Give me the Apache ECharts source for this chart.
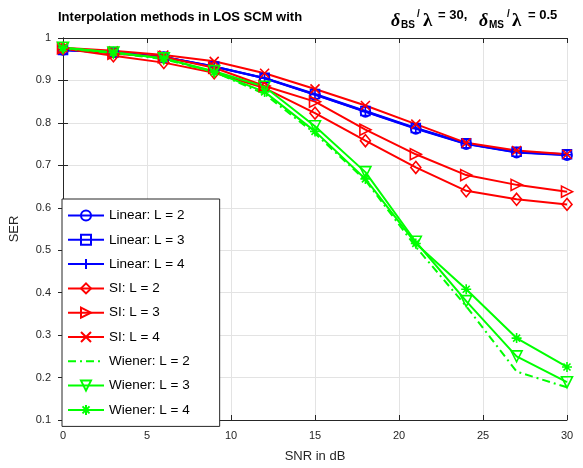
<!DOCTYPE html>
<html>
<head>
<meta charset="utf-8">
<script src="https://cdn.jsdelivr.net/npm/echarts@6/dist/echarts.min.js"></script>
<style>
html,body{margin:0;padding:0;background:#fff;}
#chart{width:583px;height:468px;}
</style>
</head>
<body>
<div id="chart"></div>
<script>
const snr = [0, 3, 6, 9, 12, 15, 18, 21, 24, 27, 30];
const linearL2 = [0.972, 0.966, 0.955, 0.932, 0.905, 0.866, 0.826, 0.786, 0.750, 0.730, 0.724];
const linearL3 = [0.972, 0.966, 0.955, 0.933, 0.906, 0.868, 0.828, 0.788, 0.752, 0.732, 0.726];
const linearL4 = [0.972, 0.966, 0.955, 0.933, 0.905, 0.867, 0.827, 0.787, 0.751, 0.731, 0.725];
const siL2 = [0.975, 0.958, 0.942, 0.918, 0.882, 0.823, 0.758, 0.695, 0.640, 0.620, 0.608];
const siL3 = [0.976, 0.963, 0.955, 0.930, 0.887, 0.850, 0.784, 0.726, 0.677, 0.654, 0.638];
const siL4 = [0.977, 0.970, 0.960, 0.945, 0.917, 0.880, 0.841, 0.797, 0.753, 0.735, 0.726];
const wienerL2 = [0.975, 0.965, 0.950, 0.920, 0.868, 0.775, 0.665, 0.508, 0.368, 0.214, 0.177];
const wienerL3 = [0.977, 0.966, 0.952, 0.922, 0.885, 0.792, 0.684, 0.520, 0.380, 0.250, 0.189];
const wienerL4 = [0.977, 0.966, 0.952, 0.920, 0.873, 0.780, 0.668, 0.516, 0.408, 0.293, 0.225];
const seriesNames = ['Linear: L = 2', 'Linear: L = 3', 'Linear: L = 4', 'SI: L = 2', 'SI: L = 3', 'SI: L = 4', 'Wiener: L = 2', 'Wiener: L = 3', 'Wiener: L = 4'];
const xTicks = [0, 5, 10, 15, 20, 25, 30];
const yTicks = [0.1, 0.2, 0.3, 0.4, 0.5, 0.6, 0.7, 0.8, 0.9, 1];

const BLUE = '#0000ff', RED = '#ff0000', GREEN = '#00ff00';
const AX = '#262626';
const PLUS = 'path://M5,0L5,10M0,5L10,5';
const CROSS = 'path://M0,0L10,10M10,0L0,10';
const STAR = 'path://M5,0L5,10M0,5L10,5M1.5,1.5L8.5,8.5M8.5,1.5L1.5,8.5';
const TRI_R = 'path://M0,0L10,5L0,10Z';
const TRI_D = 'path://M0,0L10,0L5,10Z';

const specs = [
  {vals: linearL2, color: BLUE, symbol: 'circle', size: 10},
  {vals: linearL3, color: BLUE, symbol: 'rect', size: 9},
  {vals: linearL4, color: BLUE, symbol: PLUS, size: 10},
  {vals: siL2, color: RED, symbol: 'diamond', size: [10, 12]},
  {vals: siL3, color: RED, symbol: TRI_R, size: 11},
  {vals: siL4, color: RED, symbol: CROSS, size: 9},
  {vals: wienerL2, color: GREEN, symbol: 'none', size: 0, dashed: true},
  {vals: wienerL3, color: GREEN, symbol: TRI_D, size: 11},
  {vals: wienerL4, color: GREEN, symbol: STAR, size: 10}
];

const series = specs.map((s, i) => {
  const hidden = s.symbol === 'none';
  return {
    type: 'line',
    name: seriesNames[i],
    data: snr.map((x, j) => [x, s.vals[j]]),
    symbol: hidden ? 'circle' : s.symbol,
    symbolSize: hidden ? 1 : s.size,
    showSymbol: !hidden,
    showAllSymbol: true,
    animation: false,
    lineStyle: {color: s.color, width: 2, type: s.dashed ? [8, 4, 2, 4] : 'solid'},
    itemStyle: hidden ? {color: 'none', borderColor: 'none', borderWidth: 0}
                      : {color: 'none', borderColor: s.color, borderWidth: 1.6},
    emphasis: {disabled: true}
  };
});

const chart = echarts.init(document.getElementById('chart'), null, {renderer: 'canvas'});
const fmt = v => String(Math.round(v * 10) / 10);
const axisCommon = {
  axisLine: {show: true, lineStyle: {color: AX, width: 1}},
  axisTick: {show: true, inside: true, length: 5, lineStyle: {color: AX}},
};
const sans = '"Liberation Sans", Arial, sans-serif';
const serif = '"Liberation Serif", "DejaVu Serif", serif';
function t(x, y, text, font) {
  return {type: 'text', x: x, y: y, silent: true,
    style: {text: text, font: font, fill: '#000', textVerticalAlign: 'middle'}};
}
chart.setOption({
  animation: false,
  backgroundColor: '#fff',
  grid: {left: 62, right: 16, top: 38, bottom: 41, containLabel: false},
  xAxis: [
    Object.assign({type: 'value', min: 0, max: 30, interval: 5, position: 'bottom',
      name: 'SNR in dB', nameLocation: 'middle', nameGap: 30,
      nameTextStyle: {fontFamily: sans, fontSize: 13, color: AX},
      axisLabel: {fontFamily: sans, fontSize: 11, color: AX, margin: 10},
      splitLine: {show: true, lineStyle: {color: '#e3e3e3', width: 1}}}, axisCommon),
    Object.assign({type: 'value', min: 0, max: 30, interval: 5, position: 'top',
      axisLabel: {show: false}, splitLine: {show: false}}, axisCommon)
  ],
  yAxis: [
    Object.assign({type: 'value', min: 0.1, max: 1, interval: 0.1, position: 'left',
      name: 'SER', nameLocation: 'middle', nameGap: 42,
      nameTextStyle: {fontFamily: sans, fontSize: 13, color: AX},
      axisLabel: {fontFamily: sans, fontSize: 11, color: AX, margin: 12, formatter: fmt},
      splitLine: {show: true, lineStyle: {color: '#e3e3e3', width: 1}}}, axisCommon),
    Object.assign({type: 'value', min: 0.1, max: 1, interval: 0.1, position: 'right',
      axisLabel: {show: false}, splitLine: {show: false}}, axisCommon)
  ],
  legend: {
    data: seriesNames,
    orient: 'vertical',
    left: 62, top: 199,
    itemWidth: 36, itemHeight: 12.5, itemGap: 9.3,
    padding: [9, 30, 9, 5],
    backgroundColor: '#fff',
    borderColor: AX, borderWidth: 1,
    textStyle: {fontFamily: sans, fontSize: 13.5, lineHeight: 15, color: '#000'},
    selectedMode: false
  },
  graphic: [
    t(58, 17, 'Interpolation methods in LOS SCM with', 'bold 13px ' + sans),
    t(391, 21, 'δ', 'italic bold 18px ' + serif),
    t(401, 25, 'BS', 'bold 10px ' + sans),
    t(417, 14, '/', 'bold 10px ' + sans),
    t(423, 21, 'λ', 'bold 19px ' + serif),
    t(438, 15, '= 30,', 'bold 13px ' + sans),
    t(479, 21, 'δ', 'italic bold 18px ' + serif),
    t(489, 25, 'MS', 'bold 10px ' + sans),
    t(507, 14, '/', 'bold 10px ' + sans),
    t(512, 21, 'λ', 'bold 19px ' + serif),
    t(528, 15, '= 0.5', 'bold 13px ' + sans)
  ],
  series: series
});
</script>
</body>
</html>
